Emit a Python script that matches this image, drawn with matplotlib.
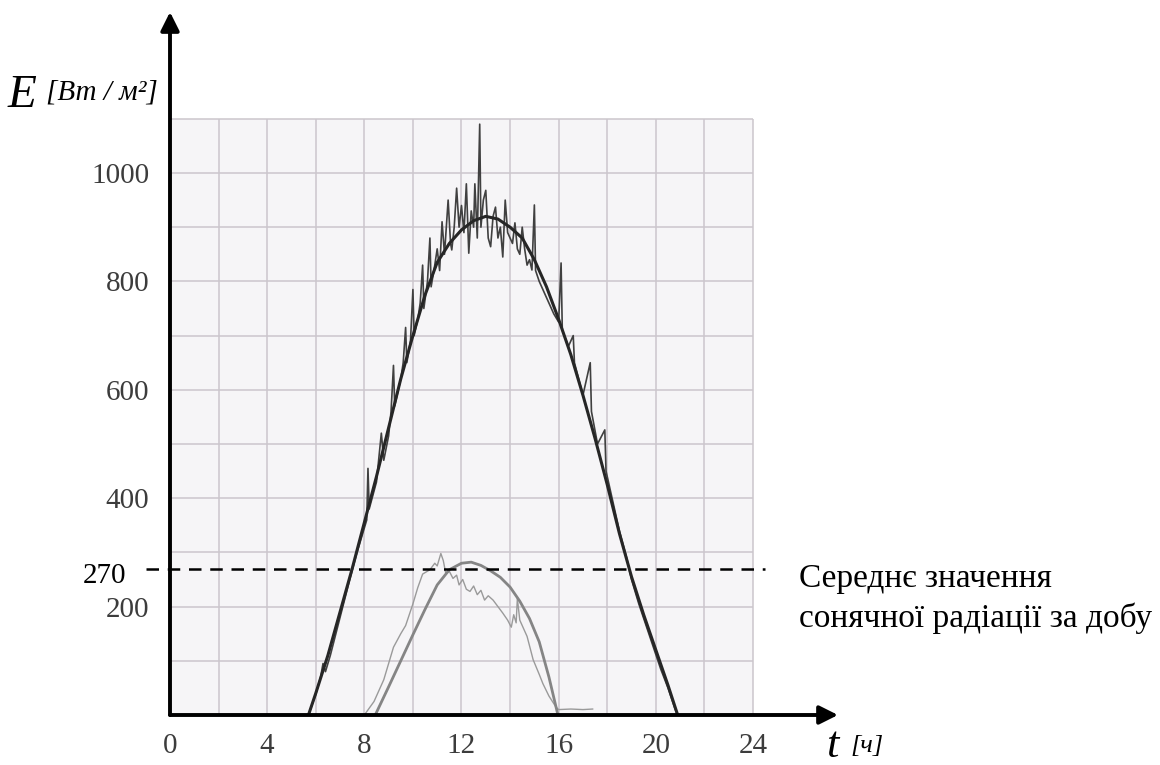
import matplotlib.pyplot as plt
from matplotlib.patches import Rectangle

# hours of the day and irradiance E, W/m^2
big_smooth_t = [5.7, 6.0, 6.5, 7.0, 7.5, 8.0, 8.5, 9.0, 9.5, 10.0, 10.5, 11.0, 11.5, 12.0,
                12.5, 13.0, 13.5, 14.0, 14.5, 15.0, 15.5, 16.0, 16.5, 17.0, 17.5, 18.0,
                18.5, 19.0, 19.5, 20.0, 20.5, 20.9]
big_smooth_e = [0, 40, 110, 190, 270, 355, 440, 530, 620, 700, 775, 835, 870, 895,
                912, 920, 915, 900, 880, 840, 790, 730, 665, 590, 510, 425,
                335, 255, 185, 120, 55, 0]

big_meas_t = [5.7, 6.0, 6.2, 6.3, 6.4, 6.6, 7.0, 7.4, 7.7, 8.0, 8.1, 8.15, 8.2, 8.5, 8.7, 8.8,
              9.0, 9.1, 9.2, 9.25, 9.4, 9.5, 9.6, 9.7, 9.75, 9.9, 10.0, 10.05, 10.2, 10.3,
              10.4, 10.45, 10.6, 10.7, 10.75, 10.9, 11.0, 11.1, 11.2, 11.3, 11.45, 11.55,
              11.6, 11.7, 11.8, 11.9, 12.0, 12.1, 12.2, 12.3, 12.4, 12.5, 12.55, 12.65,
              12.75, 12.8, 12.9, 13.0, 13.1, 13.2, 13.3, 13.4, 13.5, 13.6, 13.7, 13.8,
              13.9, 14.0, 14.1, 14.2, 14.3, 14.4, 14.5, 14.6, 14.7, 14.8, 14.9, 15.0,
              15.05, 15.2, 15.4, 15.6, 15.8, 16.0, 16.1, 16.15, 16.4, 16.6, 16.65, 17.0,
              17.3, 17.35, 17.6, 17.9, 17.95, 18.2, 18.5, 18.8, 19.0, 19.3, 19.6, 19.9,
              20.2, 20.5, 20.8, 20.9]
big_meas_e = [0, 38, 70, 95, 80, 110, 180, 250, 300, 345, 360, 455, 380, 430, 520, 470,
              515, 560, 645, 570, 600, 620, 650, 715, 650, 690, 785, 700, 730, 760,
              830, 750, 800, 880, 790, 830, 860, 820, 910, 850, 950, 870,
              858, 900, 972, 900, 940, 890, 980, 852, 930, 900, 980, 880,
              1090, 900, 950, 968, 880, 864, 920, 937, 880, 900, 845, 950,
              890, 880, 870, 908, 860, 850, 900, 860, 830, 840, 821, 941,
              820, 800, 780, 760, 740, 725, 834, 710, 680, 700, 650, 590,
              650, 560, 500, 526, 450, 400, 340, 290, 250, 205, 165, 125,
              85, 50, 10, 0]

small_smooth_t = [8.45, 9.0, 9.5, 10.0, 10.5, 11.0, 11.5, 12.0, 12.4, 12.8, 13.2, 13.6,
                  14.0, 14.4, 14.8, 15.2, 15.6, 15.97]
small_smooth_e = [0, 52, 100, 148, 195, 240, 268, 280, 282, 276, 266, 254,
                  236, 210, 178, 135, 70, 0]

small_meas_t = [8.0, 8.4, 8.8, 9.2, 9.5, 9.7, 10.0, 10.2, 10.4, 10.7, 10.9, 11.0, 11.15,
                11.25, 11.35, 11.5, 11.65, 11.8, 11.9, 12.05, 12.2, 12.35, 12.5, 12.65,
                12.8, 12.95, 13.1, 13.3, 13.5, 13.7, 13.9, 14.05, 14.15, 14.25, 14.3,
                14.4, 14.55, 14.7, 14.95, 15.2, 15.35, 15.6, 15.9, 16.0, 16.5, 17.0, 17.4]
small_meas_e = [0, 25, 65, 125, 150, 165, 205, 235, 260, 268, 280, 275, 298,
                285, 262, 265, 252, 258, 240, 250, 232, 228, 238, 222,
                230, 212, 220, 212, 200, 188, 175, 162, 185, 170, 215,
                175, 160, 145, 102, 75, 58, 35, 14, 10, 11, 10, 11]

avg_e = 270
x_ticks = [0, 4, 8, 12, 16, 20, 24]
y_ticks = [200, 400, 600, 800, 1000]

plt.rcParams['font.family'] = ['Liberation Serif', 'DejaVu Serif']

fig = plt.figure(figsize=(11.6, 7.65), dpi=100)
ax = fig.add_axes([170 / 1160, 50 / 765, 668 / 1160, 703 / 765])
ax.set_xlim(0, 27.5)
ax.set_ylim(0, 1297)
for s in ax.spines.values():
    s.set_visible(False)

# scanned grid paper
ax.add_patch(Rectangle((0, 0), 24, 1100, facecolor='#f6f5f7', edgecolor='none', zorder=0))
ax.vlines(range(2, 25, 2), 0, 1100, color='#cbc6cc', lw=1.1, zorder=1)
ax.hlines(range(100, 1101, 100), 0, 24, color='#cbc6cc', lw=1.1, zorder=1)

ax.plot(small_meas_t, small_meas_e, color='#9a9a9a', lw=1.0, zorder=3)
ax.plot(small_smooth_t, small_smooth_e, color='#858585', lw=2.0, zorder=3)
ax.plot(big_meas_t, big_meas_e, color='#404040', lw=1.2, zorder=4)
ax.plot(big_smooth_t, big_smooth_e, color='#262626', lw=2.2, zorder=5)

ax.plot([-1.0, 24.5], [avg_e, avg_e], color='black', lw=1.8, dashes=(5, 3.5),
        clip_on=False, zorder=6)
ax.text(-1.8, avg_e - 14, str(avg_e), fontsize=21, ha='right', va='center', color='black')

# axes with arrows
ax.annotate('', xy=(27.5, 0), xytext=(0, 0), annotation_clip=False,
            arrowprops=dict(arrowstyle='-|>', lw=2.8, color='black', mutation_scale=28,
                            shrinkA=0, shrinkB=0), zorder=7)
ax.annotate('', xy=(0, 1297), xytext=(0, 0), annotation_clip=False,
            arrowprops=dict(arrowstyle='-|>', lw=2.8, color='black', mutation_scale=28,
                            shrinkA=0, shrinkB=0), zorder=7)

ax.set_xticks(x_ticks)
ax.set_xticklabels([str(v) for v in x_ticks])
ax.set_yticks(y_ticks)
ax.set_yticklabels([str(v) for v in y_ticks])
ax.tick_params(length=0, labelsize=21, labelcolor='#3c3c3c')
ax.tick_params(axis='x', pad=13)
ax.tick_params(axis='y', pad=15)

fig.text(8 / 1160, 1 - 96 / 765, 'E', fontsize=34, style='italic', va='center')
fig.text(46 / 1160, 1 - 93 / 765, '[Вт / м²]', fontsize=21, style='italic', va='center')
fig.text(826 / 1160, 1 - 746 / 765, 't', fontsize=32, style='italic', va='center')
fig.text(850 / 1160, 1 - 746 / 765, '[ч]', fontsize=19, style='italic', va='center')

ax.text(25.9, avg_e + 10, 'Середнє значення\nсонячної радіації за добу', fontsize=24,
        va='top', ha='left', linespacing=1.35, clip_on=False)

fig.savefig('out.png', dpi=100)
